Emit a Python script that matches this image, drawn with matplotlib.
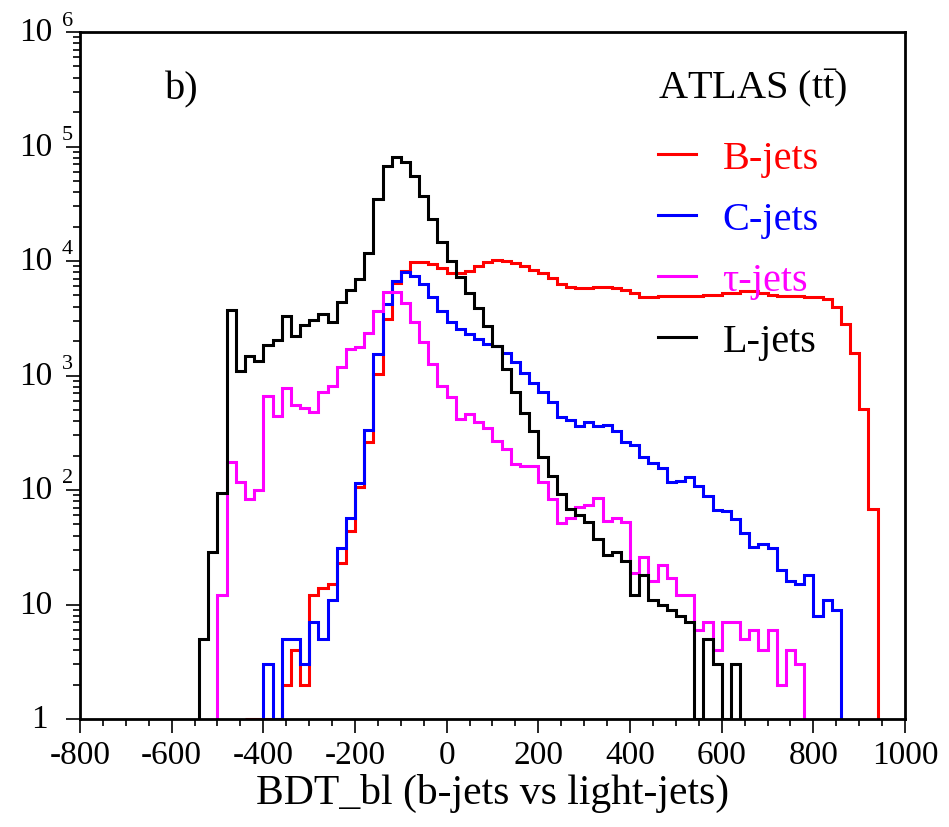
import numpy as np
import matplotlib.pyplot as plt
from matplotlib import transforms
from matplotlib.ticker import MultipleLocator, LogLocator, NullFormatter

plt.rcParams['font.family'] = 'Liberation Serif'
plt.rcParams['mathtext.fontset'] = 'custom'
plt.rcParams['mathtext.rm'] = 'Liberation Serif'
plt.rcParams['mathtext.it'] = 'Liberation Serif:italic'
plt.rcParams['axes.unicode_minus'] = False

# histogram contents, 20-wide bins, first bin lower edge given by *_start
bin_width = 20

b_start = -440
b_counts = [1, 1, 0, 0, 2, 4, 2, 12, 14, 15, 23, 44, 106, 261, 1030, 3110, 6430, 8220,
            9720, 9840, 9420, 8630, 7850, 7850, 8220, 8980, 9860, 10200, 10070, 9610,
            8980, 8390, 7850, 7060, 6300, 5890, 5800, 5800, 5900, 5900, 5800, 5580,
            5220, 4820, 4870, 4900, 4900, 4900, 4900, 4980, 5080, 5080, 5220, 5220,
            5430, 5430, 5300, 5080, 4900, 4900, 4900, 4870, 4870, 4660, 3960, 2820,
            1570, 510, 68]

c_start = -400
c_counts = [3, 0, 5, 5, 3, 7, 5, 11, 31, 57, 115, 336, 1540, 4210, 6730, 7960, 7440,
            6300, 4820, 3680, 2920, 2550, 2300, 2080, 1880, 1820, 1570, 1300, 1050,
            860, 713, 590, 431, 411, 360, 395, 360, 370, 330, 261, 248, 193, 172, 155,
            117, 121, 129, 109, 89, 67, 66, 56, 42, 32, 34, 31, 20, 16, 15, 18, 8, 11, 9]

tau_start = -500
tau_counts = [12, 174, 118, 83, 99, 667, 440, 773, 552, 517, 483, 722, 815, 1180, 1700,
              1760, 2350, 3680, 5320, 5380, 4300, 2920, 1950, 1270, 815, 645, 417, 461,
              395, 346, 270, 228, 169, 163, 161, 117, 83, 52, 57, 71, 74, 85, 54, 57, 53,
              19, 26, 16, 22, 17, 12, 12, 6, 7, 4, 7, 7, 5, 6, 4, 6, 2, 4, 3]

l_start = -540
l_counts = [5, 29, 94, 3700, 1090, 1490, 1350, 1850, 2050, 3330, 2200, 2760, 3070, 3420,
            2950, 4410, 5610, 6970, 11700, 34800, 68000, 81500, 73600, 54800, 37200,
            23300, 14800, 10100, 7190, 5210, 3850, 2720, 1820, 1140, 713, 470, 329, 193,
            133, 92, 68, 60, 53, 37, 27, 29, 24, 12, 18, 11, 10, 9, 8, 7, 0, 5, 3, 0, 3]

labels = ['B-jets', 'C-jets', 'τ-jets', 'L-jets']
colors = ['#ff0000', '#0000ff', '#ff00ff', '#000000']
starts = [b_start, c_start, tau_start, l_start]
counts_all = [b_counts, c_counts, tau_counts, l_counts]

fig = plt.figure(figsize=(9.49, 8.28), dpi=100)
ax = fig.add_axes([80/949, 108/828, 825/949, 687/828])

handles = []
for start, counts, col, lab in zip(starts, counts_all, colors, labels):
    counts = np.array(counts, dtype=float)
    edges = start + bin_width*np.arange(len(counts) + 1)
    # empty bins sit on the lower edge of the log axis
    h = ax.stairs(np.clip(counts, 1, None), edges, baseline=1, color=col, lw=2.2, label=lab)
    handles.append(h)

ax.set_yscale('log')
ax.set_xlim(-800, 1000)
ax.set_ylim(1, 1e6)

for sp in ax.spines.values():
    sp.set_linewidth(2)
    sp.set_zorder(5)

ax.set_xticks(np.arange(-800, 1001, 200))
ax.xaxis.set_minor_locator(MultipleLocator(50))
ax.set_yticks([10.0**e for e in range(7)])
ax.yaxis.set_minor_locator(LogLocator(base=10, subs=np.arange(2, 10)))
ax.yaxis.set_minor_formatter(NullFormatter())
ax.set_yticklabels([])
ax.tick_params(which='major', direction='out', length=10, width=1.2, labelsize=24,
               top=False, right=False, pad=5)
ax.tick_params(which='minor', direction='out', length=5, width=1.2, top=False, right=False)

# y labels written as "10" with a raised exponent
ytr = ax.get_yaxis_transform()
ytr_up = transforms.offset_copy(ytr, fig=fig, x=0, y=12, units='dots')
for e in range(7):
    v = 10.0**e
    if e == 0:
        ax.text(-0.039, v, '1', transform=ytr, ha='right', va='center', fontsize=24)
    else:
        ax.text(-0.034, v, '10', transform=ytr, ha='right', va='center', fontsize=24)
        if e > 1:
            ax.text(-0.022, v, str(e), transform=ytr_up, ha='left', va='center', fontsize=16)

ax.set_xlabel('BDT_bl (b-jets vs light-jets)', fontsize=30, labelpad=2)

ax.text(0.103, 0.917, 'b)', transform=ax.transAxes, fontsize=29, va='center', ha='left')
ax.text(0.70, 0.92, r'ATLAS ($\mathrm{t\bar{t}}$)', transform=ax.transAxes, fontsize=29,
        va='center', ha='left')

leg = ax.legend(handles=handles, loc='upper left', bbox_to_anchor=(0.681, 0.866),
                frameon=False, fontsize=29, handlelength=0.95, handletextpad=0.65,
                labelspacing=0.59, borderaxespad=0)
for t, col in zip(leg.get_texts(), colors):
    t.set_color(col)

plt.savefig('out.png', dpi=100)
